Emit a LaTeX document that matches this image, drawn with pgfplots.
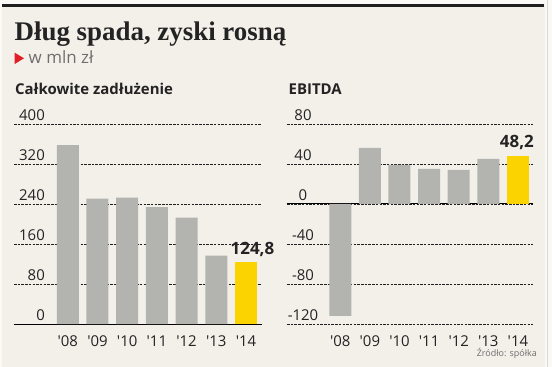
\documentclass[border=0pt]{standalone}
\usepackage{pgfplots}
\pgfplotsset{compat=1.18}
\usepackage{fontspec}
\setmainfont{Open Sans}
\newfontfamily\titlefont{Liberation Serif}
\definecolor{bg}{RGB}{243,240,234}
\definecolor{outer}{RGB}{250,249,246}
\definecolor{barg}{RGB}{179,179,175}
\definecolor{bary}{RGB}{250,211,0}
\definecolor{gridc}{RGB}{30,30,30}
\definecolor{txt}{RGB}{35,35,35}
\definecolor{subc}{RGB}{110,110,110}
\definecolor{redm}{RGB}{226,30,36}
\pgfplotsset{panel/.style={
  scale only axis, height=200bp,
  axis line style={draw=none}, major tick length=0pt,
  ymajorgrids, major grid style={gridc, line width=0.9bp, dash pattern=on 2.5bp off 1.2bp},
  extra y ticks={0}, extra y tick labels={},
  extra y tick style={grid=major, major grid style={solid, black, line width=1bp}},
  xtick={0,...,6},
  xticklabels={\textquotesingle08,\textquotesingle09,\textquotesingle10,\textquotesingle11,\textquotesingle12,\textquotesingle13,\textquotesingle14},
  xticklabel style={anchor=base, inner sep=0pt, yshift=-22bp, font=\fontsize{15}{15}\selectfont, text=txt},
  yticklabel style={inner sep=0pt, font=\fontsize{15}{15}\selectfont, text=txt},
  /pgf/number format/assume math mode=true,
  clip=false,
}}
\begin{document}
\begin{tikzpicture}
\useasboundingbox (0bp,0bp) rectangle (552bp,367bp);
\fill[outer] (0bp,0bp) rectangle (552bp,367bp);
\fill[bg] (2bp,0bp) rectangle (545bp,362.5bp);
\fill[black!88] (2bp,359.5bp) rectangle (544bp,362.5bp);
\draw[black!15, line width=0.6bp] (547.5bp,0bp) -- (547.5bp,367bp);
\node[anchor=base west, inner sep=0pt, text=txt] at (14.5bp,326.5bp) {\titlefont\bfseries\fontsize{27}{27}\selectfont Dług spada, zyski rosną};
\fill[redm] (14.7bp,314.3bp) -- (14.7bp,303bp) -- (24bp,308.7bp) -- cycle;
\node[anchor=base west, inner sep=0pt, text=subc] at (28.5bp,303.5bp) {\fontsize{17}{17}\selectfont w mln zł};
\node[anchor=base west, inner sep=0pt, text=txt] at (15bp,272bp) {\bfseries\fontsize{15}{15}\selectfont Całkowite zadłużenie};
\node[anchor=base west, inner sep=0pt, text=txt] at (288.5bp,272bp) {\bfseries\fontsize{15}{15}\selectfont EBITDA};
\node[anchor=base east, inner sep=0pt, text=subc] at (537bp,10.5bp) {\fontsize{9}{9}\selectfont Źródło: spółka};

\begin{axis}[panel, at={(14bp,43bp)}, anchor=south west, width=247.7bp,
  xmin=-1.81, xmax=6.53, ymin=0, ymax=400, ytick={0,80,...,400},
  yticklabel style={anchor=base east, xshift=31bp, yshift=4bp}]
\addplot[ybar, bar shift=0pt, bar width=22bp, fill=barg, draw=none]
  coordinates {(0,358) (1,251) (2,253) (3,234) (4,213) (5,137)};
\addplot[ybar, bar shift=0pt, bar width=22bp, fill=bary, draw=none,
  nodes near coords={\pgfmathprintnumber[fixed,fixed zerofill,precision=1,use comma]{\pgfplotspointmeta}},
  every node near coord/.append style={anchor=base, inner sep=0pt, yshift=7.5bp, xshift=6.5bp, font=\bfseries\fontsize{17}{17}\selectfont, text=txt}]
  coordinates {(6,124.8)};
\end{axis}

\begin{axis}[panel, at={(287bp,43bp)}, anchor=south west, width=246bp,
  xmin=-1.8, xmax=6.51, ymin=-120, ymax=80, ytick={-120,-80,...,80},
  yticklabel style={anchor=base, xshift=16bp, yshift=4bp}]
\addplot[ybar, bar shift=0pt, bar width=22bp, fill=barg, draw=none]
  coordinates {(0,-112) (1,56) (2,39) (3,35) (4,34) (5,45)};
\addplot[ybar, bar shift=0pt, bar width=22bp, fill=bary, draw=none,
  nodes near coords={\pgfmathprintnumber[fixed,fixed zerofill,precision=1,use comma]{\pgfplotspointmeta}},
  every node near coord/.append style={anchor=base, inner sep=0pt, yshift=8bp, xshift=-1bp, font=\bfseries\fontsize{17}{17}\selectfont, text=txt}]
  coordinates {(6,48.2)};
\end{axis}
\end{tikzpicture}
\end{document}
